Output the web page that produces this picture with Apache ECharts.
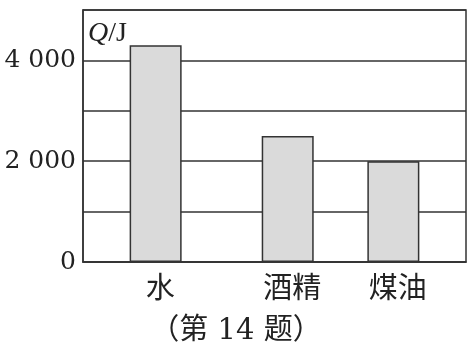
<!DOCTYPE html>
<html>
<head>
<meta charset="utf-8">
<script src="https://cdn.jsdelivr.net/npm/echarts@6/dist/echarts.min.js"></script>
<style>
html,body{margin:0;padding:0;background:#fff;}
#chart{width:472px;height:348px;}
</style>
</head>
<body>
<div id="chart"></div>
<script>
// ---- data ----
const categories = ['水', '酒精', '煤油'];
const heatJ = [4300, 2500, 2000];
const yLabelValues = [0, 2000, 4000];
const yTickLabels = ['0', '2 000', '4 000'];
const caption = '（第 14 题）';

// ---- layout (uneven bar spacing via spacer slots) ----
const SLOT_COUNT = 29;
const catSlot = [5, 15, 23];

const xData = new Array(SLOT_COUNT).fill('');
const sData = new Array(SLOT_COUNT).fill(null);
catSlot.forEach((s, i) => { xData[s] = categories[i]; sData[s] = heatJ[i]; });

const ink = '#333';
const chart = echarts.init(document.getElementById('chart'), null, {renderer: 'canvas'});
chart.setOption({
  backgroundColor: '#fff',
  animation: false,
  title: {
    text: caption,
    left: 'center',
    top: 312,
    textStyle: {fontFamily: "'DejaVu Serif', 'Noto Sans CJK SC'", fontSize: 29, fontWeight: 'normal', color: '#222'}
  },
  grid: {left: 83, right: 6, top: 10, bottom: 86, show: true, borderColor: ink, borderWidth: 1.5, containLabel: false},
  xAxis: {
    type: 'category',
    data: xData,
    axisLine: {show: true, lineStyle: {color: ink, width: 1.5}},
    axisTick: {show: false},
    splitLine: {show: false},
    axisLabel: {
      interval: 0,
      margin: 10,
      formatter: v => v ? '{c|' + v + '}' : '',
      rich: {c: {fontFamily: "'Noto Sans CJK SC'", fontSize: 29, color: '#222', padding: [0, 0, 0, 9]}}
    }
  },
  yAxis: {
    type: 'value',
    min: 0,
    max: 5000,
    interval: 1000,
    name: '{q|Q}{r|/J}',
    nameLocation: 'end',
    nameGap: -10,
    nameTextStyle: {
      align: 'left', verticalAlign: 'top', padding: [0, 0, 0, 5],
      rich: {
        q: {fontFamily: "'Liberation Serif'", fontStyle: 'italic', fontSize: 28, color: '#222'},
        r: {fontFamily: "'Liberation Serif'", fontSize: 28, color: '#222'}
      }
    },
    axisLine: {show: true, lineStyle: {color: ink, width: 1.5}},
    axisTick: {show: false},
    splitLine: {show: true, lineStyle: {color: ink, width: 1.5}},
    axisLabel: {
      margin: 7,
      fontFamily: "'DejaVu Serif'",
      fontSize: 25,
      color: '#222',
      formatter: v => { const i = yLabelValues.indexOf(v); return i >= 0 ? yTickLabels[i] : ''; }
    }
  },
  series: [{
    type: 'bar',
    data: sData,
    barWidth: 52,
    itemStyle: {color: '#dadada', borderColor: ink, borderWidth: 1.5}
  }]
});
</script>
</body>
</html>
